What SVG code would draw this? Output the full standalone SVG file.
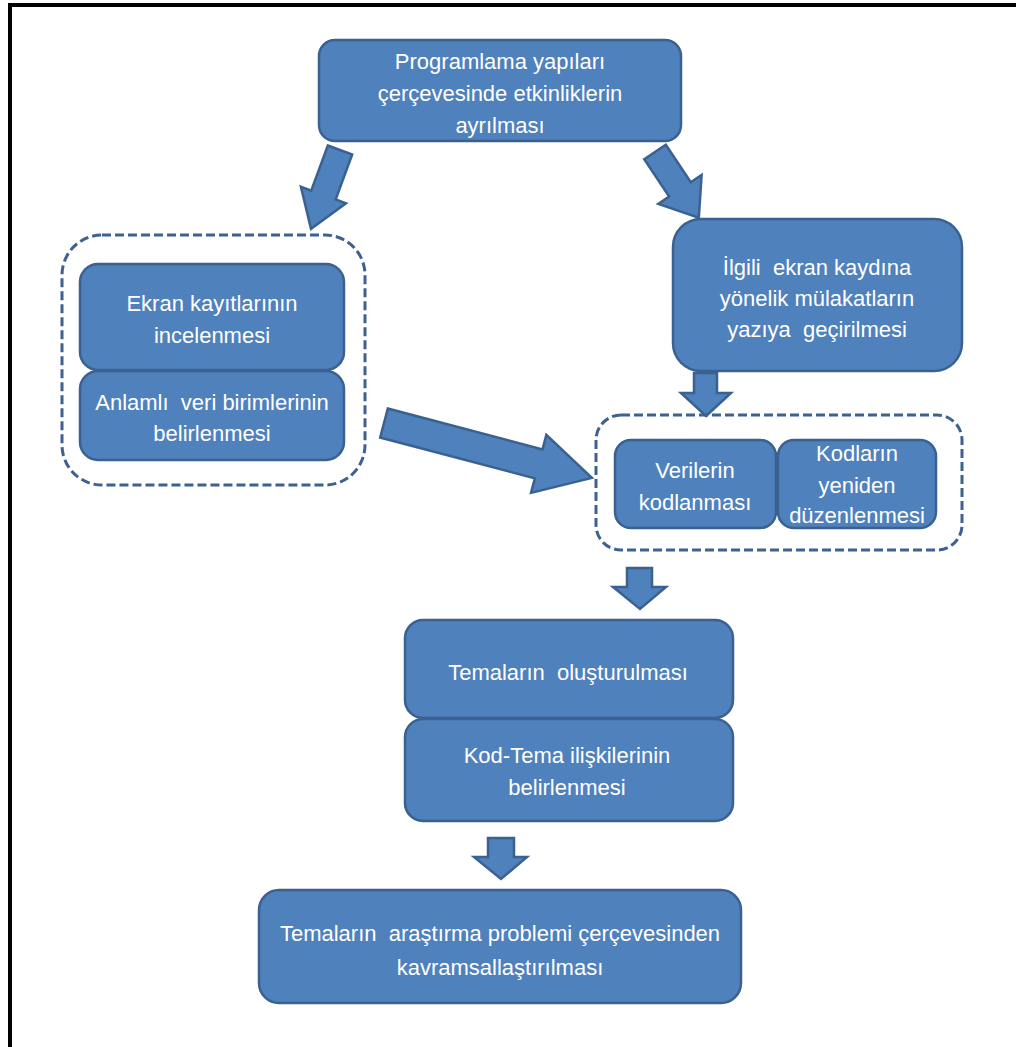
<svg xmlns="http://www.w3.org/2000/svg" width="1016" height="1047" viewBox="0 0 1016 1047">
<defs>
<style>
.box{fill:#4F81BD;stroke:#3A6190;stroke-width:2.5}
.grp{fill:none;stroke:#3D6190;stroke-width:3;stroke-dasharray:9 4}
.arr{fill:#4F81BD;stroke:#3A6190;stroke-width:2.5;stroke-linejoin:miter}
.t{font-family:"Liberation Sans",Arial,sans-serif;font-size:22px;fill:#FFFFFF;text-anchor:middle;white-space:pre}
</style>
</defs>
<rect width="1016" height="1047" fill="#FFFFFF"/>
<rect x="8" y="3" width="1008" height="4" fill="#000000"/>
<rect x="8" y="3" width="4" height="1044" fill="#000000"/>
<g id="connectors">
<path class="arr" transform="translate(340,150) rotate(20.2)" d="M-13,0 H13 V48 H24 L0,84 L-24,48 H-13 Z"/>
<path class="arr" transform="translate(655,152) rotate(-33.7)" d="M-13,0 H13 V45 H26 L0,79 L-26,45 H-13 Z"/>
<path class="arr" d="M694,373 H717 V393 H731 L706,416 L681,393 H694 Z"/>
<path class="arr" transform="translate(384,423) rotate(14.8)" d="M0,-15 H160 V-30 L215,0 L160,30 V15 H0 Z"/>
<path class="arr" d="M627,568 H652 V587 H666 L640,609 L613,587 H627 Z"/>
<path class="arr" d="M488,838 H514 V857 H527 L501,879 L474,857 H488 Z"/>
</g>
<g id="n-top">
<rect class="box" x="319" y="40" width="362" height="101" rx="16"/>
<text class="t" x="500" y="69">Programlama yapıları</text>
<text class="t" x="500" y="101">çerçevesinde etkinliklerin</text>
<text class="t" x="500" y="133">ayrılması</text>
</g>
<g id="g-left">
<rect class="grp" x="62" y="235" width="303" height="250" rx="40"/>
</g>
<g id="n-ekran">
<rect class="box" x="80" y="264" width="264" height="106" rx="18"/>
<text class="t" x="212" y="311">Ekran kayıtlarının</text>
<text class="t" x="212" y="343">incelenmesi</text>
</g>
<g id="n-anlamli">
<rect class="box" x="80" y="371" width="264" height="89" rx="18"/>
<text class="t" x="212" y="410">Anlamlı  veri birimlerinin</text>
<text class="t" x="212" y="441">belirlenmesi</text>
</g>
<g id="n-ilgili">
<rect class="box" x="673" y="219" width="289" height="152" rx="28"/>
<text class="t" x="817" y="275">İlgili  ekran kaydına</text>
<text class="t" x="817" y="306">yönelik mülakatların</text>
<text class="t" x="817" y="337">yazıya  geçirilmesi</text>
</g>
<g id="g-right">
<rect class="grp" x="596" y="415" width="366" height="135" rx="25"/>
</g>
<g id="n-verilerin">
<rect class="box" x="615" y="440" width="161" height="88" rx="16"/>
<text class="t" x="695" y="478">Verilerin</text>
<text class="t" x="695" y="510">kodlanması</text>
</g>
<g id="n-kodlarin">
<rect class="box" x="778" y="440" width="158" height="88" rx="16"/>
<text class="t" x="857" y="461">Kodların</text>
<text class="t" x="857" y="493">yeniden</text>
<text class="t" x="857" y="523">düzenlenmesi</text>
</g>
<g id="n-temalar">
<rect class="box" x="405" y="620" width="328" height="98" rx="18"/>
<text class="t" x="568" y="680">Temaların  oluşturulması</text>
</g>
<g id="n-kodtema">
<rect class="box" x="405" y="719" width="328" height="102" rx="18"/>
<text class="t" x="567" y="763">Kod-Tema ilişkilerinin</text>
<text class="t" x="567" y="795">belirlenmesi</text>
</g>
<g id="n-bottom">
<rect class="box" x="259" y="890" width="482" height="113" rx="20"/>
<text class="t" x="500" y="941">Temaların  araştırma problemi çerçevesinden</text>
<text class="t" x="500" y="975">kavramsallaştırılması</text>
</g>
</svg>
